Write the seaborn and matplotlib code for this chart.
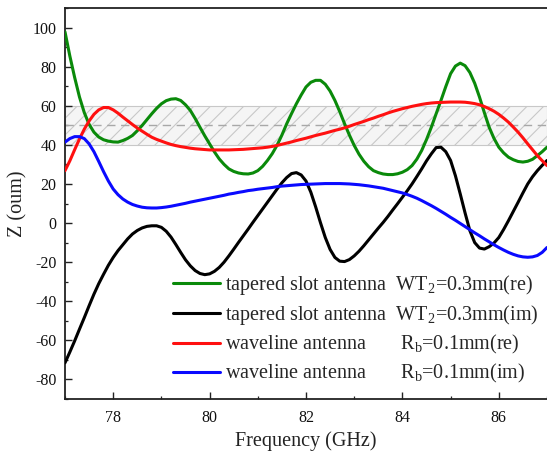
import numpy as np
import pandas as pd
import seaborn as sns
import matplotlib
matplotlib.use("Agg")
import matplotlib.pyplot as plt
from matplotlib.ticker import MultipleLocator

# Frequency grid (GHz), 0.1 GHz steps from 77 to 87
freq = np.round(np.arange(77.0, 87.05, 0.1), 1)

# Tapered slot antenna, WT2 = 0.3 mm, real part
taper_re = [97.8, 85.5, 74.5, 64.5, 56.5, 50.5, 46.5, 44.0, 42.6, 41.9,
            41.5, 41.4, 42.2, 43.3, 44.8, 47.2, 49.9, 52.9, 55.9, 58.7,
            61.0, 62.6, 63.4, 63.6, 62.7, 60.5, 57.6, 53.5, 49.0, 44.6,
            40.5, 36.4, 32.8, 30.0, 27.7, 26.4, 25.6, 25.2, 25.1, 25.6,
            26.8, 29.0, 32.0, 35.5, 39.8, 45.0, 50.8, 56.0, 61.0, 65.5,
            69.6, 72.0, 73.0, 73.0, 71.0, 67.5, 62.7, 57.0, 50.8, 45.0,
            39.7, 35.2, 31.6, 28.8, 26.8, 25.8, 25.1, 24.8, 24.8, 25.2,
            26.0, 27.3, 29.4, 32.7, 37.1, 42.7, 49.0, 55.9, 62.7, 69.8,
            76.4, 80.3, 81.8, 80.5, 77.0, 71.5, 64.4, 56.5, 49.0, 43.3,
            38.8, 35.9, 33.7, 32.4, 31.5, 31.2, 31.6, 32.6, 34.5, 36.5, 38.8]

# Tapered slot antenna, WT2 = 0.3 mm, imaginary part
taper_im = [-71.5, -66.0, -60.3, -54.3, -48.4, -42.3, -36.4, -31.0, -26.2, -21.6,
            -17.6, -14.1, -11.1, -8.1, -5.6, -3.8, -2.5, -1.7, -1.4, -1.4,
            -2.2, -4.2, -7.2, -11.0, -15.0, -18.8, -21.9, -24.3, -25.8, -26.4,
            -26.0, -24.7, -22.7, -20.0, -16.8, -13.4, -9.9, -6.5, -3.1, 0.4,
            3.8, 7.2, 10.6, 14.0, 17.4, 20.6, 23.3, 25.3, 25.8, 24.6,
            21.5, 15.8, 8.3, 0.2, -7.4, -13.5, -17.6, -19.5, -19.7, -18.7,
            -16.8, -14.4, -11.6, -8.6, -5.6, -2.6, 0.3, 3.4, 6.7, 9.9,
            13.2, 16.5, 20.0, 23.8, 27.7, 31.8, 35.4, 38.6, 38.8, 36.5,
            32.0, 24.2, 14.9, 5.2, -3.9, -10.0, -12.8, -13.3, -12.1, -10.2,
            -7.4, -3.3, 1.2, 5.9, 10.6, 15.4, 20.0, 23.7, 26.8, 29.5, 32.0]

# Waveline antenna, Rb = 0.1 mm, real part
wave_re = [26.8, 31.8, 37.5, 43.0, 48.0, 52.2, 55.6, 57.9, 59.1, 59.1,
           57.9, 56.2, 54.2, 52.3, 50.4, 48.6, 47.0, 45.4, 43.9, 42.8,
           41.9, 41.0, 40.2, 39.6, 39.1, 38.7, 38.3, 38.0, 37.8, 37.6,
           37.4, 37.4, 37.4, 37.4, 37.4, 37.5, 37.6, 37.7, 37.9, 38.1,
           38.3, 38.5, 38.8, 39.2, 39.7, 40.3, 40.9, 41.5, 42.2, 42.8,
           43.4, 44.1, 44.8, 45.4, 46.0, 46.7, 47.4, 48.0, 48.7, 49.5,
           50.4, 51.2, 52.0, 52.9, 53.7, 54.6, 55.4, 56.3, 57.1, 57.8,
           58.5, 59.1, 59.7, 60.2, 60.7, 61.1, 61.4, 61.6, 61.7, 61.8,
           61.9, 61.9, 61.9, 61.8, 61.5, 61.1, 60.5, 59.6, 58.5, 57.2,
           55.6, 53.7, 51.6, 49.1, 46.5, 43.6, 40.5, 37.5, 34.5, 31.9, 29.4]

# Waveline antenna, Rb = 0.1 mm, imaginary part
wave_im = [41.4, 43.2, 44.2, 44.2, 43.2, 40.5, 36.5, 31.5, 26.3, 21.5,
           17.4, 14.5, 12.3, 10.7, 9.5, 8.7, 8.1, 7.8, 7.7, 7.7,
           7.9, 8.2, 8.6, 9.1, 9.6, 10.1, 10.7, 11.2, 11.7, 12.2,
           12.7, 13.2, 13.7, 14.2, 14.8, 15.2, 15.7, 16.1, 16.6, 16.9,
           17.3, 17.6, 17.9, 18.2, 18.6, 18.9, 19.1, 19.3, 19.5, 19.7,
           19.8, 19.9, 20.0, 20.1, 20.2, 20.2, 20.2, 20.2, 20.1, 20.0,
           19.8, 19.6, 19.3, 19.0, 18.6, 18.2, 17.8, 17.2, 16.6, 16.0,
           15.4, 14.6, 13.7, 12.7, 11.5, 10.2, 8.9, 7.5, 6.0, 4.5,
           2.9, 1.4, -0.2, -1.8, -3.4, -5.0, -6.5, -8.1, -9.6, -11.1,
           -12.5, -13.8, -15.0, -16.0, -16.8, -17.3, -17.5, -17.3, -16.6, -15.0, -12.5]

labels = [
    "tapered slot antenna  WT$_2$=0.3mm(re)",
    "tapered slot antenna  WT$_2$=0.3mm(im)",
    "waveline antenna       R$_\\mathrm{b}$=0.1mm(re)",
    "waveline antenna       R$_\\mathrm{b}$=0.1mm(im)",
]
colors = ["#0a8a0a", "#000000", "#ff1010", "#0a0aff"]

x_ticks = [78, 80, 82, 84, 86]
y_ticks = [-80, -60, -40, -20, 0, 20, 40, 60, 80, 100]

df = pd.concat([
    pd.DataFrame({"freq": freq, "Z": vals, "series": lab})
    for vals, lab in zip([taper_re, taper_im, wave_re, wave_im], labels)
], ignore_index=True)

sns.set_theme(style="ticks")
plt.rcParams["font.family"] = ["Liberation Serif", "DejaVu Serif"]
plt.rcParams["mathtext.fontset"] = "custom"
plt.rcParams["mathtext.rm"] = "Liberation Serif"
plt.rcParams["mathtext.it"] = "Liberation Serif:italic"
plt.rcParams["axes.unicode_minus"] = False
plt.rcParams["hatch.linewidth"] = 0.8

fig = plt.figure(figsize=(5.47, 4.57), dpi=100)
ax = fig.add_axes([65 / 547, 1 - 399 / 457, 482 / 547, 391 / 457])

# Target impedance band 40-60 ohm with its centre line
ax.axhspan(40, 60, facecolor="#f5f5f5", edgecolor="#c8c8c8", hatch="//",
           linewidth=0.8, zorder=0)
ax.axhline(50, color="#a8a8a8", lw=1.0, dashes=(6, 4), zorder=1)

sns.lineplot(data=df, x="freq", y="Z", hue="series", hue_order=labels,
             palette=dict(zip(labels, colors)), linewidth=2.2, ax=ax,
             legend=False, zorder=3)

handles = [plt.Line2D([], [], color=c, lw=2.2) for c in colors]
ax.legend(handles, labels, loc="upper left", bbox_to_anchor=(0.224, 0.322),
          frameon=False, fontsize=14.5, handlelength=2.35, handletextpad=0.25,
          labelspacing=0.3, borderpad=0, borderaxespad=0)

ax.set_xlim(77, 87)
ax.set_ylim(-90, 110)
ax.set_xticks(x_ticks)
ax.set_yticks(y_ticks)
ax.xaxis.set_minor_locator(MultipleLocator(1))
ax.yaxis.set_minor_locator(MultipleLocator(10))
ax.tick_params(which="major", direction="in", length=5, width=1.0,
               labelsize=11.5, colors="#222222", labelcolor="#111111")
ax.tick_params(axis="x", which="major", pad=8)
ax.tick_params(axis="y", which="major", pad=6)
ax.tick_params(which="minor", direction="in", length=2.5, width=0.9, colors="#222222")

ax.set_xlabel("Frequency (GHz)", fontsize=14.5, color="#222222", labelpad=4)
ax.set_ylabel("Z (oum)", fontsize=14.5, color="#222222", labelpad=4)

for side in ["left", "bottom", "top"]:
    ax.spines[side].set_linewidth(1.3)
    ax.spines[side].set_color("#222222")
ax.spines["right"].set_visible(False)

fig.savefig("out.png", dpi=100)
